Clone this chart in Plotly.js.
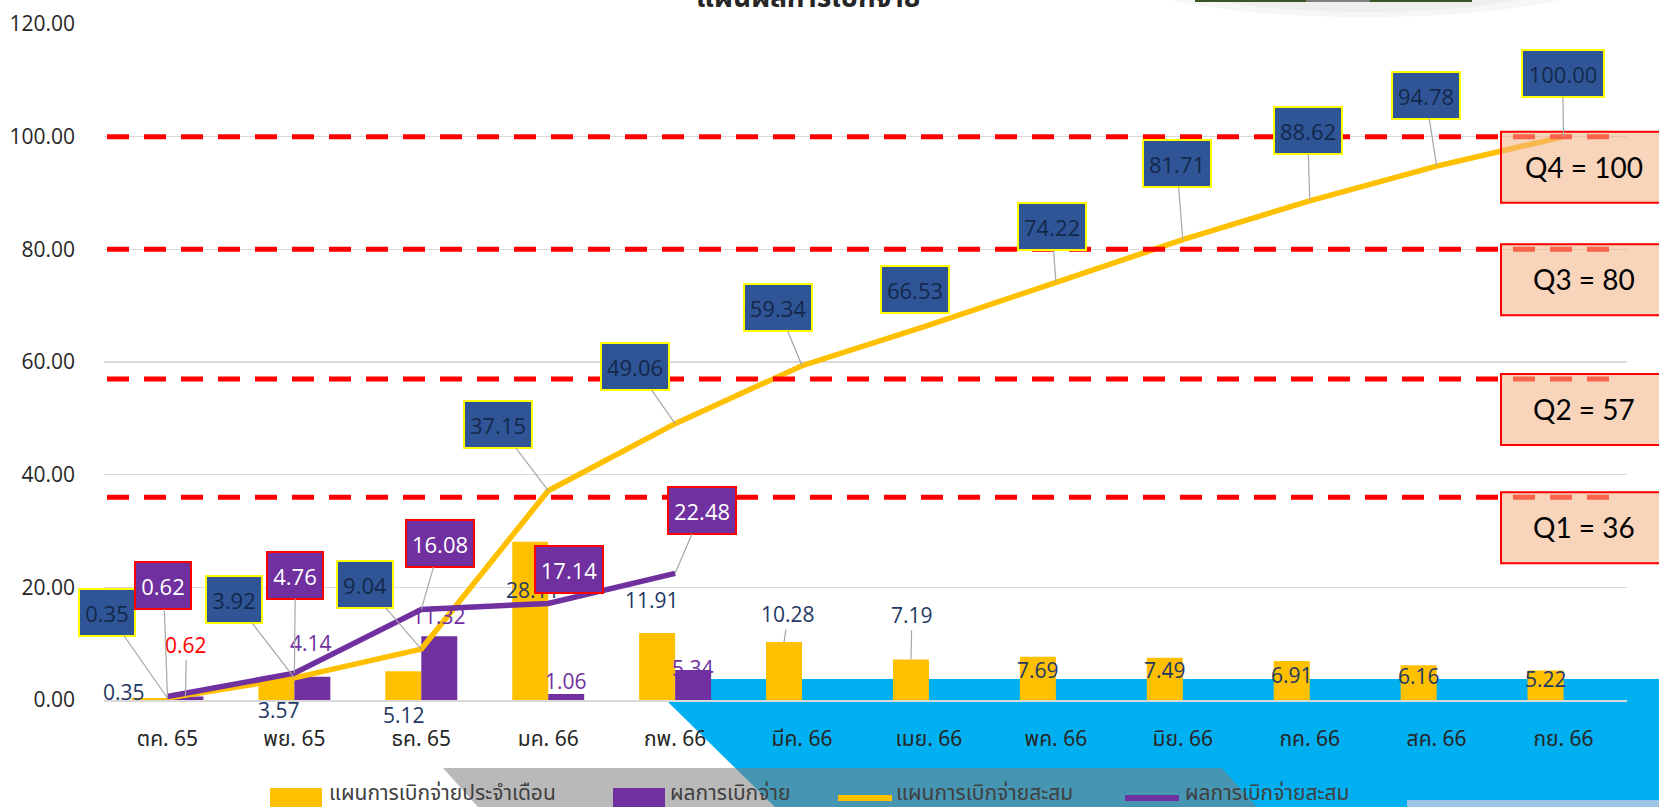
<!DOCTYPE html>
<html>
<head>
<meta charset="utf-8">
<script src="https://cdn.plot.ly/plotly-3.0.1.min.js"></script>
<style>
  html, body { margin: 0; padding: 0; background: #ffffff; }
  #chart { width: 1659px; height: 807px; }
</style>
</head>
<body>
<div id="chart"></div>
<script>
// ---------------- data ----------------
const months = ['ตค. 65','พย. 65','ธค. 65','มค. 66','กพ. 66','มีค. 66','เมย. 66','พค. 66','มิย. 66','กค. 66','สค. 66','กย. 66'];
const planMonthly = [0.35, 3.57, 5.12, 28.11, 11.91, 10.28, 7.19, 7.69, 7.49, 6.91, 6.16, 5.22];
const actualMonthly = [0.62, 4.14, 11.32, 1.06, 5.34];
const planCumulative = [0.35, 3.92, 9.04, 37.15, 49.06, 59.34, 66.53, 74.22, 81.71, 88.62, 94.78, 100.00];
const actualCumulative = [0.62, 4.76, 16.08, 17.14, 22.48];
const quarterTargets = [36, 57, 80, 100];
const quarterLabels = ['Q1 = 36', 'Q2 = 57', 'Q3 = 80', 'Q4 = 100'];
const seriesNames = ['แผนการเบิกจ่ายประจำเดือน', 'ผลการเบิกจ่าย', 'แผนการเบิกจ่ายสะสม', 'ผลการเบิกจ่ายสะสม'];
const chartTitle = 'แผนผลการเบิกจ่าย';
const yTickValues = [0, 20, 40, 60, 80, 100, 120];

// ---------------- label placement (pixel offsets, layout only) ----------------
const planCumOffsets = [[-60,-86],[-60,-78],[-56,-65],[-50,-66],[-40,-57],[-24,-58],[-14,-36],[-4,-55],[-6,-76],[-2,-70],[-11,-71],[-1,-63]];
const planCumLeader = [true,true,true,true,true,true,false,true,true,true,true,true];
const actualCumOffsets = [[-4,-111],[1,-98],[19,-66],[21,-34],[27,-63]];
const actualCumLeader = [true,true,true,false,true];
const planBarOffsets = [[-25,-6],[3,30],[1,44],[3,48],[-5,-33],[4,-28],[1,-45],[0,13],[0,12],[0,14],[0,11],[0,8]];
const planBarLeader = [false,false,false,false,false,true,true,false,false,false,false,false];
const actualBarOffsets = [[1,-52],[-1,-34],[0,-20],[0,-13],[0,-2]];
const actualBarLeader = [true,false,false,false,false];
const actualBarColors = ['#FF0000','#7030A0','#7030A0','#7030A0','#7030A0'];

// ---------------- geometry helpers ----------------
const W = 1659, H = 807;
const M = {l: 104, r: 32, t: 24, b: 107};
const PW = W - M.l - M.r, PH = H - M.t - M.b;
const px = x => (x - M.l) / PW;
const py = y => (H - M.b - y) / PH;
const pathPx = pts => 'M' + pts.map(p => px(p[0]).toFixed(5) + ',' + py(p[1]).toFixed(5)).join(' L') + ' Z';

const YELLOW = '#FFC000', PURPLE = '#7030A0';
const NUMFONT = 'Tahoma, "Open Sans", "Noto Sans", sans-serif';
const THAIFONT = 'Tahoma, "Noto Sans Thai", "Leelawadee UI", "Open Sans", sans-serif';

// ---------------- traces ----------------
const traces = [
  {type: 'bar', name: seriesNames[0], x: months, y: planMonthly,
   marker: {color: YELLOW}, hoverinfo: 'skip', showlegend: false},
  {type: 'bar', name: seriesNames[1], x: months.slice(0, actualMonthly.length), y: actualMonthly,
   marker: {color: PURPLE}, hoverinfo: 'skip', showlegend: false},
  {type: 'scatter', mode: 'lines', name: seriesNames[2], x: months, y: planCumulative,
   line: {color: YELLOW, width: 5.5}, hoverinfo: 'skip', showlegend: false},
  {type: 'scatter', mode: 'lines', name: seriesNames[3], x: months.slice(0, actualCumulative.length), y: actualCumulative,
   line: {color: PURPLE, width: 5.5}, hoverinfo: 'skip', showlegend: false}
];

// ---------------- annotations ----------------
const annotations = [];
const boxW = s => s.length <= 4 ? 54 : (s.length === 5 ? 66 : 80);

planMonthly.forEach((v, i) => {
  annotations.push({x: months[i], y: v, xref: 'x', yref: 'y', xshift: -18,
    text: v.toFixed(2), showarrow: true, arrowhead: 0, arrowwidth: 1.2, standoff: 0,
    arrowcolor: planBarLeader[i] ? '#A6A6A6' : 'rgba(0,0,0,0)',
    ax: planBarOffsets[i][0], ay: planBarOffsets[i][1],
    font: {family: NUMFONT, size: 21, color: '#1F3864'}});
});
actualMonthly.forEach((v, i) => {
  annotations.push({x: months[i], y: v, xref: 'x', yref: 'y', xshift: 18,
    text: v.toFixed(2), showarrow: true, arrowhead: 0, arrowwidth: 1.2, standoff: 0,
    arrowcolor: actualBarLeader[i] ? '#A6A6A6' : 'rgba(0,0,0,0)',
    ax: actualBarOffsets[i][0], ay: actualBarOffsets[i][1],
    font: {family: NUMFONT, size: 21, color: actualBarColors[i]}});
});
planCumulative.forEach((v, i) => {
  const t = v.toFixed(2);
  annotations.push({x: months[i], y: v, xref: 'x', yref: 'y',
    text: t, showarrow: true, arrowhead: 0, arrowwidth: 1.2, standoff: 0,
    arrowcolor: planCumLeader[i] ? '#A6A6A6' : 'rgba(0,0,0,0)',
    ax: planCumOffsets[i][0], ay: planCumOffsets[i][1],
    bgcolor: '#2F5597', bordercolor: '#FFFF00', borderwidth: 2, borderpad: 0,
    width: boxW(t), height: 45,
    font: {family: NUMFONT, size: 22, color: '#14284B'}});
});
actualCumulative.forEach((v, i) => {
  const t = v.toFixed(2);
  annotations.push({x: months[i], y: v, xref: 'x', yref: 'y',
    text: t, showarrow: true, arrowhead: 0, arrowwidth: 1.2, standoff: 0,
    arrowcolor: actualCumLeader[i] ? '#A6A6A6' : 'rgba(0,0,0,0)',
    ax: actualCumOffsets[i][0], ay: actualCumOffsets[i][1],
    bgcolor: PURPLE, bordercolor: '#FF0000', borderwidth: 2, borderpad: 0,
    width: boxW(t), height: 45,
    font: {family: NUMFONT, size: 22, color: '#FFFFFF'}});
});
quarterTargets.forEach((q, i) => {
  annotations.push({x: px(1584), xref: 'paper', y: q, yref: 'y', yshift: -30,
    text: quarterLabels[i], showarrow: false, xanchor: 'center', yanchor: 'middle',
    font: {family: '"Lato", "Open Sans", sans-serif', size: 28, color: '#000000'}});
});

// title (cut at top edge as in the reference)
annotations.push({x: px(808), xref: 'paper', y: py(22), yref: 'paper', yanchor: 'bottom',
  text: '<b>' + chartTitle + '</b>', showarrow: false,
  font: {family: THAIFONT, size: 28, color: '#262626'}});

// custom legend
const legendItems = [
  {kind: 'box', color: YELLOW, x0: 270, x1: 322, tx: 327},
  {kind: 'box', color: PURPLE, x0: 613, x1: 665, tx: 668},
  {kind: 'line', color: YELLOW, x0: 838, x1: 892, tx: 894},
  {kind: 'line', color: PURPLE, x0: 1125, x1: 1179, tx: 1183}
];
legendItems.forEach((it, i) => {
  annotations.push({x: px(it.tx), xref: 'paper', y: py(793), yref: 'paper',
    xanchor: 'left', yanchor: 'middle', text: seriesNames[i], showarrow: false,
    font: {family: THAIFONT, size: 21, color: '#404040'}});
});

// ---------------- shapes ----------------
const shapes = [];
// background decorations
shapes.push({type: 'path', xref: 'paper', yref: 'paper', layer: 'below',
  path: pathPx([[711,679],[1670,679],[1670,815],[783,815],[668,702],[711,702]]),
  fillcolor: '#00B0F0', line: {width: 0}});
shapes.push({type: 'path', xref: 'paper', yref: 'paper', layer: 'below',
  path: pathPx([[443,768],[1222,768],[1264,815],[485,815]]),
  fillcolor: 'rgba(128,128,128,0.55)', line: {width: 0}});
shapes.push({type: 'rect', xref: 'paper', yref: 'paper', layer: 'below',
  x0: px(1407), x1: px(1670), y0: py(800), y1: py(815),
  fillcolor: '#9DC3E6', line: {width: 0}});
shapes.push({type: 'circle', xref: 'paper', yref: 'paper', layer: 'below',
  x0: px(1120), x1: px(1610), y0: py(-70), y1: py(17),
  fillcolor: 'rgba(0,0,0,0.035)', line: {width: 0}});
shapes.push({type: 'circle', xref: 'paper', yref: 'paper', layer: 'below',
  x0: px(1160), x1: px(1570), y0: py(-60), y1: py(12),
  fillcolor: 'rgba(0,0,0,0.03)', line: {width: 0}});
shapes.push({type: 'rect', xref: 'paper', yref: 'paper', layer: 'below',
  x0: px(1195), x1: px(1472), y0: py(-3), y1: py(2),
  fillcolor: '#375623', line: {width: 0}});
shapes.push({type: 'rect', xref: 'paper', yref: 'paper', layer: 'below',
  x0: px(1306), x1: px(1370), y0: py(-3), y1: py(2),
  fillcolor: '#7F7F7F', line: {width: 0}});

// quarter target dashed lines
quarterTargets.forEach(q => {
  shapes.push({type: 'line', xref: 'paper', yref: 'y', layer: 'above',
    x0: px(107), x1: px(1623), y0: q, y1: q,
    line: {color: '#FF0000', width: 5, dash: '22px,15px'}});
});
// quarter boxes (semi-transparent, above the dashes)
quarterTargets.forEach(q => {
  shapes.push({type: 'rect', xref: 'paper', yref: 'y', layer: 'above',
    ysizemode: 'pixel', yanchor: q, y0: 5, y1: -66,
    x0: px(1501), x1: px(1675),
    fillcolor: 'rgba(243,178,133,0.56)', line: {color: '#FF0000', width: 2}});
});

// legend symbols
legendItems.forEach(it => {
  if (it.kind === 'box') {
    shapes.push({type: 'rect', xref: 'paper', yref: 'paper', layer: 'above',
      x0: px(it.x0), x1: px(it.x1), y0: py(788), y1: py(815),
      fillcolor: it.color, line: {width: 0}});
  } else {
    shapes.push({type: 'line', xref: 'paper', yref: 'paper', layer: 'above',
      x0: px(it.x0), x1: px(it.x1), y0: py(798), y1: py(798),
      line: {color: it.color, width: 6}});
  }
});

// ---------------- layout ----------------
const layout = {
  width: W, height: H,
  margin: {l: M.l, r: M.r, t: M.t, b: M.b, pad: 0},
  paper_bgcolor: '#FFFFFF',
  plot_bgcolor: 'rgba(0,0,0,0)',
  barmode: 'group', bargap: 0.433, bargroupgap: 0,
  showlegend: false,
  xaxis: {
    type: 'category', categoryorder: 'array', categoryarray: months,
    range: [-0.5, months.length - 0.5], autorange: false,
    showgrid: false, zeroline: false,
    showline: true, linecolor: '#D9D9D9', linewidth: 2,
    ticks: '', ticklabelstandoff: 19,
    tickfont: {family: THAIFONT, size: 21, color: '#262626'},
    fixedrange: true
  },
  yaxis: {
    range: [0, 120], autorange: false, tickvals: yTickValues, tickformat: '.2f',
    showgrid: true, gridcolor: '#D9D9D9', gridwidth: 1.5,
    zeroline: false, showline: false, ticks: '', ticklabelstandoff: 28,
    tickfont: {family: NUMFONT, size: 21, color: '#262626'},
    fixedrange: true
  },
  annotations: annotations,
  shapes: shapes
};

Plotly.newPlot('chart', traces, layout, {displayModeBar: false, staticPlot: true});
</script>
</body>
</html>
